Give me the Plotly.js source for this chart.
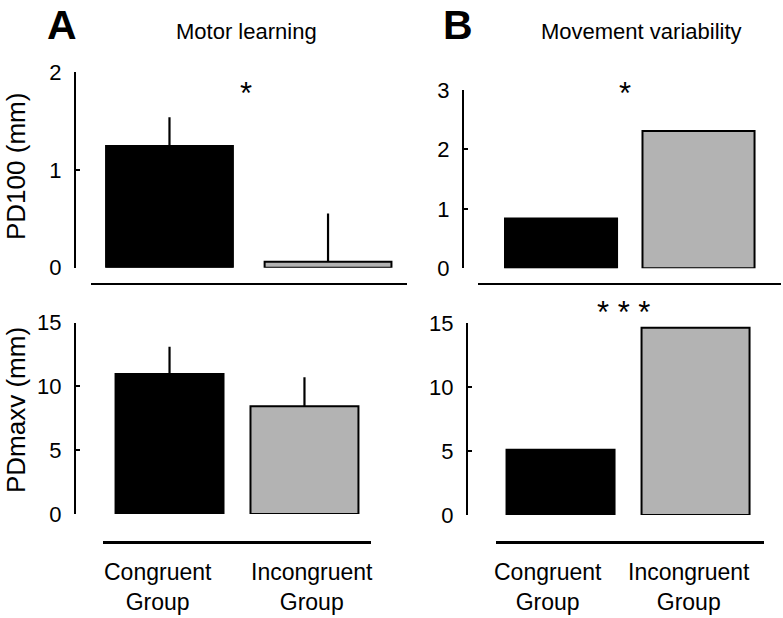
<!DOCTYPE html>
<html>
<head>
<meta charset="utf-8">
<script src="https://cdn.plot.ly/plotly-3.0.1.min.js"></script>
<style>html,body{margin:0;padding:0;background:#fff;}#chart{width:783px;height:618px;}</style>
</head>
<body>
<div id="chart"></div>
<script>
// ---- data ----
const categories = ['Congruent Group', 'Incongruent Group'];
const pd100Learning = [1.245, 0.06];
const pd100LearningErr = [0.295, 0.495];
const pdmaxvLearning = [10.98, 8.45];
const pdmaxvLearningErr = [2.14, 2.27];
const pd100Variability = [0.84, 2.31];
const pdmaxvVariability = [5.1, 14.65];
const pd100Ticks = [0, 1, 2];
const pd100VarTicks = [0, 1, 2, 3];
const pdmaxvTicks = [0, 5, 10, 15];
const yTitles = ['PD100 (mm)', 'PDmaxv (mm)'];
const panelTitles = ['Motor learning', 'Movement variability'];
const panelLetters = ['A', 'B'];
const sigTop = ['*', '*'];
const sigBottom = ['', '* * *'];

// ---- styling ----
const W = 783, H = 618;
const FONT = 'Liberation Sans, Arial, Helvetica, sans-serif';
const colors = ['#000000', '#b3b3b3'];
const px = v => v / W;
const py = v => 1 - v / H;

function barTrace(vals, err, xa, ya, w) {
  const t = {
    type: 'bar', x: categories, y: vals, xaxis: xa, yaxis: ya,
    marker: {color: colors, line: {color: '#000', width: 2}},
    width: w, hoverinfo: 'skip'
  };
  if (err) {
    t.error_y = {type: 'data', array: err, arrayminus: err.map(() => 0), symmetric: false,
      width: 0, thickness: 2.2, color: '#000'};
  }
  return t;
}

const data = [
  barTrace(pd100Learning, pd100LearningErr, 'x', 'y', 0.8),
  barTrace(pd100Variability, null, 'x2', 'y2', 0.815),
  barTrace(pdmaxvLearning, pdmaxvLearningErr, 'x3', 'y3', 0.8),
  barTrace(pdmaxvVariability, null, 'x4', 'y4', 0.8)
];

function xax(d0, d1, posY, r0, r1) {
  return {domain: [px(d0), px(d1)], anchor: 'free', position: py(posY), type: 'category',
    range: [r0, r1], showline: true, linewidth: 2.5, linecolor: '#000',
    showticklabels: false, ticks: '', showgrid: false, zeroline: false, fixedrange: true};
}
function yax(top, bottom, posX, rmax, ticks) {
  return {domain: [py(bottom), py(top)], anchor: 'free', position: px(posX),
    range: [0, rmax], tickvals: ticks, ticktext: ticks.map(String),
    ticks: 'inside', ticklen: 4, tickwidth: 2, tickcolor: '#000',
    showline: true, linewidth: 2, linecolor: '#000', showgrid: false, zeroline: false,
    ticklabelstandoff: 8, tickfont: {family: FONT, size: 22, color: '#000'}, fixedrange: true};
}

const annotations = [];
function note(text, x, y, size, extra) {
  annotations.push(Object.assign({text: text, xref: 'paper', yref: 'paper', x: px(x), y: py(y),
    xanchor: 'center', yanchor: 'middle', showarrow: false,
    font: {family: FONT, size: size, color: '#000'}}, extra || {}));
}
// panel letters and titles
[[62, 25], [458, 25]].forEach((p, i) => note('<b>' + panelLetters[i] + '</b>', p[0], p[1], 41));
[[246, 31.5], [641, 31.5]].forEach((p, i) => note(panelTitles[i], p[0], p[1], 22));
// y-axis titles (rotated)
[[16, 167], [16, 410]].forEach((p, i) => note(yTitles[i], p[0], p[1], 26, {textangle: -90}));
// significance marks
[[246, 94], [625, 94]].forEach((p, i) => note(sigTop[i], p[0], p[1], 31));
note(sigBottom[1], 623, 312, 31);
// group labels under bottom panels
const labelX = [[157.5, 311.5], [547.5, 688.5]];
labelX.forEach(row => {
  row.forEach((x, j) => note(categories[j].split(' ').join('<br>'), x, 587, 23));
});

const layout = {
  width: W, height: H, margin: {l: 0, r: 0, t: 0, b: 0},
  paper_bgcolor: '#fff', plot_bgcolor: 'rgba(0,0,0,0)', showlegend: false,
  xaxis: xax(91, 407, 283.5, -0.495, 1.498),
  xaxis2: xax(478, 781, 283.5, -0.604, 1.6),
  xaxis3: xax(103, 371, 542, -0.493, 1.493),
  xaxis4: xax(496, 764, 542, -0.478, 1.507),
  yaxis: yax(72.3, 267.7, 75, 2, pd100Ticks),
  yaxis2: yax(90, 268.3, 463, 3, pd100VarTicks),
  yaxis3: yax(322.7, 514, 75, 15, pdmaxvTicks),
  yaxis4: yax(323.3, 515, 467, 15, pdmaxvTicks),
  annotations: annotations
};

Plotly.newPlot('chart', data, layout, {displayModeBar: false, staticPlot: true});
</script>
</body>
</html>
